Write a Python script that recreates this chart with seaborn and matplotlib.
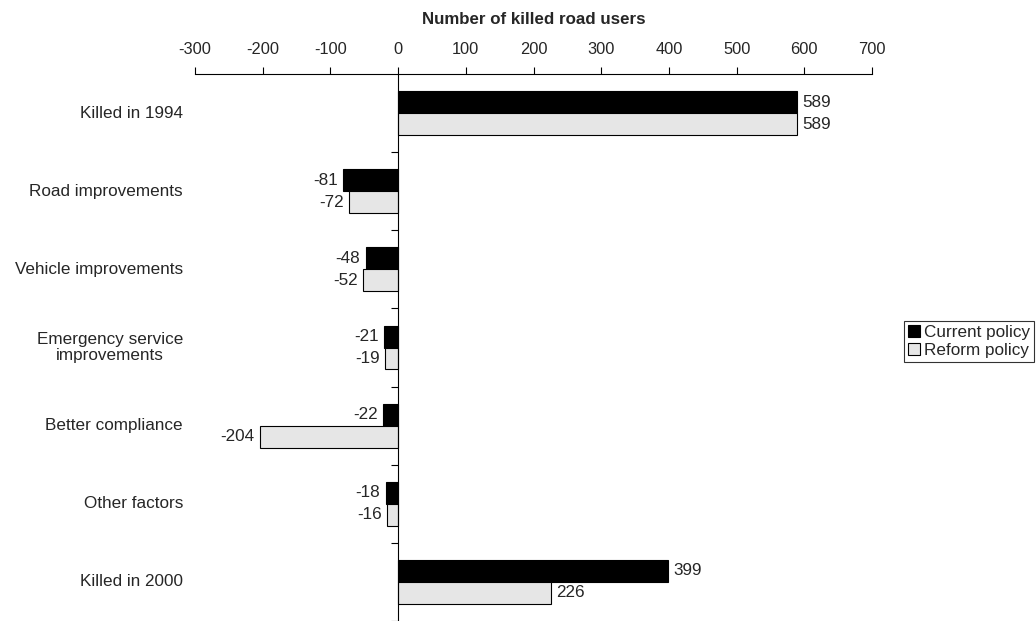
import matplotlib
matplotlib.use("Agg")
import matplotlib.pyplot as plt
import seaborn as sns
import pandas as pd
import numpy as np
from matplotlib.patches import Patch

categories = ["Killed in 1994", "Road improvements", "Vehicle improvements",
              "Emergency service\nimprovements", "Better compliance",
              "Other factors", "Killed in 2000"]
series = ["Current policy", "Reform policy"]
current_policy = [589, -81, -48, -21, -22, -18, 399]
reform_policy = [589, -72, -52, -19, -204, -16, 226]
xticks = [-300, -200, -100, 0, 100, 200, 300, 400, 500, 600, 700]

df = pd.DataFrame({
    "category": categories * 2,
    "series": [series[0]] * len(categories) + [series[1]] * len(categories),
    "value": current_policy + reform_policy,
})

sns.set_theme(style="white")
plt.rcParams['font.family'] = ['Liberation Sans', 'DejaVu Sans']

fig = plt.figure(figsize=(10.36, 6.21), dpi=100)
ax = fig.add_axes([195/1036, 0.0, (872-195)/1036, 1-74/621])

colors = {"Current policy": "#000000", "Reform policy": "#e6e6e6"}
sns.barplot(data=df, y="category", x="value", hue="series", order=categories,
            hue_order=series, palette=colors, orient="h", width=0.56,
            edgecolor="black", linewidth=0.8, ax=ax, legend=False, saturation=1)

ax.set_xlim(-300, 700)
ax.set_ylim(6.5, -0.5)
ax.set_xticks(xticks)
ax.set_xticklabels([str(t) for t in xticks], fontsize=11.8)
ax.xaxis.set_ticks_position("top")
ax.xaxis.set_label_position("top")
ax.tick_params(axis="x", direction="out", length=5, width=0.8, color="black", pad=7)
ax.set_xlabel("Number of killed road users", fontsize=12.2, fontweight="bold",
              labelpad=13)
ax.set_ylabel("")

for s in ["right", "bottom"]:
    ax.spines[s].set_visible(False)
ax.spines["top"].set_color("black")
ax.spines["top"].set_linewidth(0.8)
ax.spines["left"].set_position(("data", 0))
ax.spines["left"].set_color("black")
ax.spines["left"].set_linewidth(0.8)

ax.set_yticks(range(len(categories)))
ax.set_yticklabels([])
ax.tick_params(axis="y", which="major", length=0)
ax.set_yticks(np.arange(0.5, len(categories), 1.0), minor=True)
ax.tick_params(axis="y", which="minor", direction="out", length=5, width=0.8,
               color="black", left=True)

for i, cat in enumerate(categories):
    ax.text(-(195-183)/677, i, cat, transform=ax.get_yaxis_transform(), ha="right",
            va="center", fontsize=12.3, multialignment="center", linespacing=1.1)

# value labels
bh = 0.28
for j, vals in enumerate([current_policy, reform_policy]):
    for i, v in enumerate(vals):
        y = i - bh / 2 if j == 0 else i + bh / 2
        if v >= 0:
            ax.text(v + 8, y, str(v), ha="left", va="center", fontsize=12.3)
        else:
            ax.text(v - 8, y, str(v), ha="right", va="center", fontsize=12.3)

handles = [Patch(facecolor=colors[s], edgecolor="black", linewidth=0.8, label=s) for s in series]
leg = fig.legend(handles=handles, loc="upper left",
                 bbox_to_anchor=(904/1036, 1-321/621), fontsize=12.3,
                 frameon=True, fancybox=False, handlelength=0.7, handleheight=0.7,
                 handletextpad=0.2, borderpad=0.25, labelspacing=0.15, borderaxespad=0)
leg.get_frame().set_edgecolor("black")
leg.get_frame().set_linewidth(0.8)

fig.savefig("out.png", dpi=100)
